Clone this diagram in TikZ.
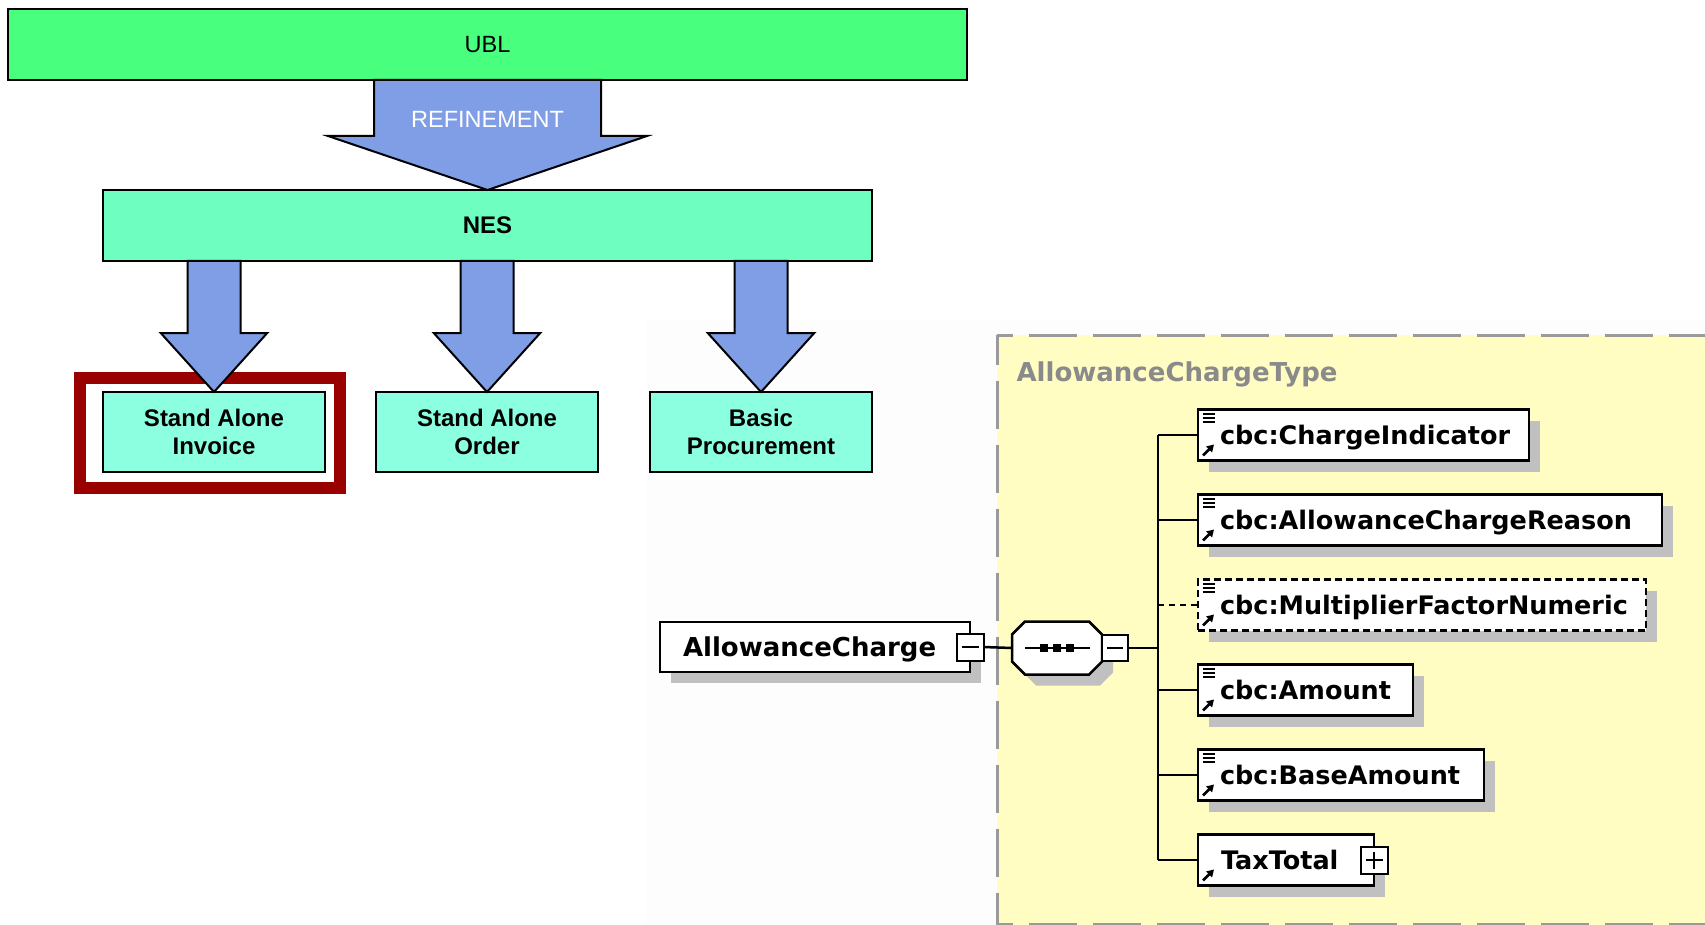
\documentclass[tikz,border=0pt]{standalone}
\usepackage{fontspec}
\setmainfont{Liberation Sans}
\newfontfamily\xsdfont{DejaVu Sans}
\usetikzlibrary{arrows.meta}

\definecolor{ublgreen}{HTML}{48FF7E}
\definecolor{nesgreen}{HTML}{6EFFC0}
\definecolor{docaqua}{HTML}{8CFFE0}
\definecolor{flowblue}{HTML}{7F9EE6}
\definecolor{focusred}{HTML}{990000}
\definecolor{xsdyellow}{HTML}{FFFDC2}
\definecolor{shadowgray}{HTML}{C0C0C0}
\definecolor{titlegray}{HTML}{8A8A8A}
\definecolor{framegray}{HTML}{9A9A9A}
\definecolor{pagegray}{HTML}{FDFDFD}

% block arrow from the bottom of node #1 down to the top of node #2
% #3 shaft half width, #4 head half width, #5 head length
\newcommand\blockarrow[5]{%
  \draw[flowarrow]
    ([xshift=-#3pt]#2.north |- #1.south) --
    ([xshift=-#3pt,yshift=#5pt]#2.north) --
    ([xshift=-#4pt,yshift=#5pt]#2.north) --
    (#2.north) --
    ([xshift=#4pt,yshift=#5pt]#2.north) --
    ([xshift=#3pt,yshift=#5pt]#2.north) --
    ([xshift=#3pt]#2.north |- #1.south) -- cycle;}

% schema element box: #1 name, #2 centre y, #3 width, #4 extra style, #5 text indent, #6 label
\newcommand\xsdelement[6]{%
  \node[xsdbox, minimum width=#3pt, minimum height=51pt, anchor=west,
    font=\xsdfont\bfseries\fontsize{25.5}{30}\selectfont, #4]
    (#1) at (1198,#2) {\makebox[#3pt][l]{\hspace{#5pt}#6}};}

% simple-content marker (three bars) in the upper left corner
\newcommand\contenticon[1]{%
  \foreach \d in {4.5,8.5,12.5}
    \draw[line width=2pt] ([shift={(5,\d)}]#1.north west) -- ++(12,0);}

% reference marker (small arrow) in the lower left corner
\newcommand\linkicon[1]{%
  \draw[line width=2.6pt, -{Triangle[length=7pt,width=8pt]}]
    ([shift={(5,-5)}]#1.south west) -- ++(11,-11);}

\begin{document}
\begin{tikzpicture}[x=1pt, y=-1pt,
  level/.style={draw, line width=2pt, inner sep=0pt, outer sep=0pt,
    font=\fontsize{23.5}{27.5}\selectfont},
  docbox/.style={level, fill=docaqua, minimum width=222pt, minimum height=80pt,
    align=center, font=\bfseries\fontsize{24}{27.5}\selectfont},
  flowarrow/.style={draw, fill=flowblue, line width=2pt, line join=miter},
  focusframe/.style={draw=focusred, line width=12pt, inner sep=0pt, outer sep=0pt},
  shadowed/.style={preaction={fill=shadowgray, draw=none,
    transform canvas={shift={(11,11)}}}},
  xsdbox/.style={draw, fill=white, line width=2.5pt, inner sep=0pt, outer sep=0pt,
    font=\xsdfont\bfseries\fontsize{26}{30}\selectfont,
    text height=19pt, text depth=0pt, shadowed},
  togglebox/.style={draw, fill=white, line width=2pt, minimum size=27pt,
    inner sep=0pt, outer sep=0pt},
  conn/.style={line width=2.5pt},
  typeframe/.style={draw=framegray, line width=3pt, dash pattern=on 48pt off 16pt}
]
\useasboundingbox (0,0) rectangle (1705,925);
\fill[white] (0,0) rectangle (1705,925);
\fill[pagegray] (646,321) rectangle (1705,925);

% ---------- specification hierarchy ----------
\node[level, fill=ublgreen, minimum width=959pt, minimum height=71pt] (ubl)
  at (487.5,44.5) {UBL};
\node[level, fill=nesgreen, minimum width=769pt, minimum height=71pt,
  font=\bfseries\fontsize{24}{27.5}\selectfont] (nes) at (487.5,225.5) {NES};

\node[focusframe, minimum width=260pt, minimum height=110pt] (focus) at (210,433) {};

\node[docbox] (sai) at (214,432) {Stand Alone\\Invoice};
\node[docbox] (sao) at (487,432) {Stand Alone\\Order};
\node[docbox] (bp)  at (761,432) {Basic\\Procurement};

\blockarrow{ubl}{nes}{113.5}{159.5}{54}
\node[text=white, font=\fontsize{23.5}{27.5}\selectfont] (refine) at (487.5,119.6) {REFINEMENT};

\blockarrow{nes}{sai}{26.5}{53.25}{59}
\blockarrow{nes}{sao}{26.5}{53.25}{59}
\blockarrow{nes}{bp}{26.5}{53.25}{59}

% ---------- AllowanceChargeType content model ----------
\fill[xsdyellow] (997,335) rectangle (1705,925);
\draw[typeframe, dash phase=18pt] (997,335) -- (997,925);
\draw[typeframe, dash phase=32pt] (997,335) -- (1705,335);
\draw[typeframe, dash phase=32pt] (997,924) -- (1705,924);

\node[anchor=base west, text=titlegray,
  font=\xsdfont\bfseries\fontsize{26}{30}\selectfont] (title) at (1013,381)
  {AllowanceChargeType};

\node[xsdbox, minimum width=310pt, minimum height=50pt, anchor=west] (ac)
  at (660,647) {\makebox[310pt][l]{\hspace{23pt}AllowanceCharge}};
\node[togglebox] (acm) at (ac.east) {};
\draw[line width=2pt] ([xshift=5pt]acm.west) -- ([xshift=-5pt]acm.east);

% sequence compositor
\node[minimum width=90pt, minimum height=53pt, inner sep=0pt, outer sep=0pt] (seq)
  at (1057,648) {};
\draw[fill=white, line width=2.5pt, shadowed]
  ([xshift=13pt]seq.north west) -- ([xshift=-13pt]seq.north east) --
  ([yshift=-13pt]seq.north east) -- ([yshift=13pt]seq.south east) --
  ([xshift=-13pt]seq.south east) -- ([xshift=13pt]seq.south west) --
  ([yshift=13pt]seq.south west) -- ([yshift=-13pt]seq.north west) -- cycle;
\draw[conn] ([xshift=13pt]seq.west) -- ([xshift=-12pt]seq.east);
\foreach \dx in {-13,0,13}
  \fill ([xshift=\dx pt]seq.center) +(-4pt,-3.8pt) rectangle +(4pt,3.8pt);
\node[togglebox, minimum size=26pt, anchor=west] (seqm) at (seq.east) {};
\draw[line width=2pt] ([xshift=5pt]seqm.west) -- ([xshift=-5pt]seqm.east);

\draw[conn] (acm.east) -- (seq.west);

% child elements
\xsdelement{ci}{435}{331}{}{22}{cbc:ChargeIndicator}
\xsdelement{acr}{520}{464}{}{22}{cbc:AllowanceChargeReason}
\xsdelement{mfn}{605}{448}{dash pattern=on 7pt off 4pt}{22}{cbc:MultiplierFactorNumeric}
\xsdelement{amt}{690}{215}{}{22}{cbc:Amount}
\xsdelement{base}{775}{286}{}{22}{cbc:BaseAmount}
\xsdelement{tt}{860}{176}{}{23}{TaxTotal}

\foreach \n in {ci,acr,mfn,amt,base} {\contenticon{\n}}
\foreach \n in {ci,acr,mfn,amt,base,tt} {\linkicon{\n}}

\node[togglebox] (ttp) at (tt.east) {};
\draw[line width=2pt] ([xshift=5pt]ttp.west) -- ([xshift=-5pt]ttp.east);
\draw[line width=2pt] ([yshift=-5pt]ttp.north) -- ([yshift=5pt]ttp.south);

% connectors from the compositor to the children
\coordinate (spine) at (1158,648);
\draw[conn] (seqm.east) -- (spine);
\draw[conn] (spine |- ci.west) -- (spine |- tt.west);
\foreach \n in {ci,acr,amt,base,tt}
  \draw[conn] (spine |- \n.west) -- (\n.west);
\draw[conn, dash pattern=on 6pt off 5pt] (spine |- mfn.west) -- (mfn.west);
\end{tikzpicture}
\end{document}
